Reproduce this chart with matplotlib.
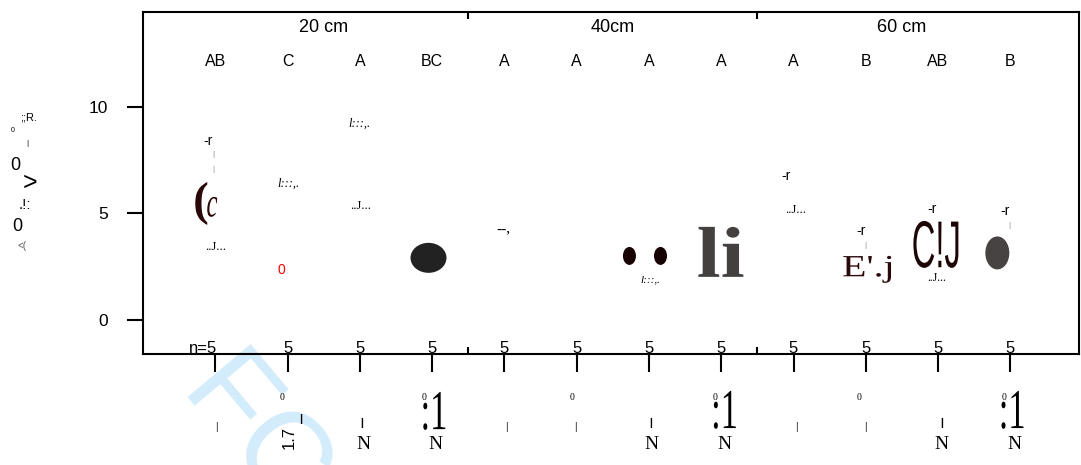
import numpy as np
import matplotlib
matplotlib.use('Agg')
import matplotlib.pyplot as plt
from matplotlib.patches import Ellipse
from matplotlib.textpath import TextPath
from matplotlib.font_manager import FontProperties
from matplotlib.patheffects import AbstractPathEffect
from matplotlib.transforms import Affine2D, IdentityTransform

plt.rcParams['font.family'] = ['Liberation Sans', 'DejaVu Sans']

DPI = 100

# --- chart data -------------------------------------------------------------
depth_groups = ['20 cm', '40cm', '60 cm']
group_centers = [2.5, 6.5, 10.5]
positions = [1, 2, 3, 4, 5, 6, 7, 8, 9, 10, 11, 12]
letters = ['AB', 'C', 'A', 'BC', 'A', 'A', 'A', 'A', 'A', 'B', 'AB', 'B']
n_obs = [5, 5, 5, 5, 5, 5, 5, 5, 5, 5, 5, 5]
y_ticks = [0, 5, 10]

# scanned (garbled) marks: centre x, centre y, width px, height px
blob_x = [3.95, 6.73, 7.16, 11.82]
blob_y = [2.91, 3.00, 3.00, 3.14]
blob_w = [36, 13, 13, 24]
blob_h = [30, 18, 18, 33]
blob_col = ['#222222', '#180000', '#180000', '#474342']

# glyphs fitted to a box: text, x, y, width px, height px, colour, font
fitted = [
    ('(', 0.806, 5.46, 12, 43, '#2a0808', dict(family='Liberation Serif', weight='bold')),
    ('c', 0.958, 5.30, 10, 20, '#2a0808', dict(family='Liberation Serif', style='italic')),
    ('li', 7.995, 3.19, 45, 50, '#454040', dict(family='Liberation Serif', weight='bold')),
    ("E'.j", 10.02, 2.37, 48, 27, '#2a0808', dict(family='Liberation Serif')),
    ('C!J', 10.97, 3.54, 45, 47, '#1e0505', dict(family='Liberation Sans')),
    (':1', 4.03, -4.27, 22, 38, 'black', dict(family='Liberation Serif')),
    (':1', 8.05, -4.22, 22, 38, 'black', dict(family='Liberation Serif')),
    (':1', 12.03, -4.22, 22, 38, 'black', dict(family='Liberation Serif')),
]

# plain scanned fragments: text, x, y, size, colour, family, style, weight
fragments = [
    ('-r', 0.90, 8.39, 10, 'black', 'Liberation Sans', 'normal', 'normal'),
    ('-r', 8.90, 6.75, 10, 'black', 'Liberation Sans', 'normal', 'normal'),
    ('-r', 9.94, 4.17, 10, 'black', 'Liberation Sans', 'normal', 'normal'),
    ('-r', 10.92, 5.20, 10, 'black', 'Liberation Sans', 'normal', 'normal'),
    ('-r', 11.93, 5.11, 10, 'black', 'Liberation Sans', 'normal', 'normal'),
    ('|', 0.97, 7.74, 6, '#888888', 'Liberation Sans', 'normal', 'normal'),
    ('|', 0.97, 7.03, 6, '#888888', 'Liberation Sans', 'normal', 'normal'),
    ('|', 9.99, 3.47, 6, '#888888', 'Liberation Sans', 'normal', 'normal'),
    ('|', 11.99, 4.41, 6, '#888888', 'Liberation Sans', 'normal', 'normal'),
    ('..J...', 1.00, 3.42, 9, 'black', 'Liberation Serif', 'normal', 'normal'),
    ('..J...', 3.01, 5.34, 9, 'black', 'Liberation Serif', 'normal', 'normal'),
    ('..J...', 9.03, 5.16, 9, 'black', 'Liberation Serif', 'normal', 'normal'),
    ('..J...', 10.98, 1.98, 8.5, 'black', 'Liberation Serif', 'normal', 'normal'),
    ('l:::,.', 2.01, 6.38, 9, 'black', 'Liberation Serif', 'italic', 'normal'),
    ('l:::,.', 2.99, 9.19, 9, 'black', 'Liberation Serif', 'italic', 'normal'),
    ('l:::,.', 7.02, 1.88, 8, 'black', 'Liberation Serif', 'italic', 'normal'),
    ('0', 1.91, 2.34, 10, 'red', 'Liberation Sans', 'normal', 'normal'),
    ('--,', 4.99, 4.22, 11, 'black', 'Liberation Serif', 'normal', 'normal'),
]
below_zero_x = [1.93, 3.89, 5.93, 7.92, 9.91, 11.92]
below_bar_x = [3.03, 7.02, 11.05]
below_thin_x = [1.01, 5.03, 5.98, 9.04, 9.99]
below_n_x = [3.05, 4.04, 7.03, 8.05, 11.05, 12.06]

# garbled y-axis title pieces (figure pixels): text, x, y, size, colour
ylabel_bits = [
    (';;R.', 29, 118, 8, 'black'),
    ('0', 13, 130, 5, 'black'),
    ('|', 27, 143, 6, 'black'),
    ('0', 15, 166, 13, 'black'),
    ('>', 30, 183, 18, 'black'),
    ('.!:', 25, 205, 11, 'black'),
    ('0', 17, 226, 13, 'black'),
    ('<(', 22, 246, 7, '#555555'),
]


class HStretch(AbstractPathEffect):
    def __init__(self, sx, cx):
        super().__init__()
        self.sx, self.cx = sx, cx

    def draw_path(self, renderer, gc, tpath, affine, rgbFace=None):
        a = affine + Affine2D().translate(-self.cx, 0).scale(self.sx, 1).translate(self.cx, 0)
        renderer.draw_path(gc, tpath, a, rgbFace)


W, H = 1081, 465
fig = plt.figure(figsize=(W / DPI, H / DPI), dpi=DPI)
ax = fig.add_axes([143 / W, (H - 354) / H, (1079 - 143) / W, (354 - 12) / H])
ax.patch.set_alpha(0)
ax.set_xlim(0, 12.95)
ax.set_ylim(-1.6, 14.44)

for s in ax.spines.values():
    s.set_linewidth(1.5)

ax.set_xticks(positions)
ax.set_xticklabels([])
ax.set_xticks([4.5, 8.5], minor=True)
ax.tick_params(axis='x', which='major', direction='out', length=13, width=1.5,
               bottom=True, top=False, labelbottom=False)
ax.tick_params(axis='x', which='minor', direction='in', length=5, width=1.5,
               bottom=True, top=True, labelbottom=False)
ax.set_yticks(y_ticks)
ax.tick_params(axis='y', direction='out', length=11.5, width=1.5, pad=13.5, labelsize=12.5)

# group headers and letters
for g, c in zip(depth_groups, group_centers):
    ax.text(c, 13.69, g, ha='center', va='center', fontsize=13)
for x, l in zip(positions, letters):
    ax.text(x, 12.14, l, ha='center', va='center', fontsize=11.5)

# sample sizes
for i, (x, n) in enumerate(zip(positions, n_obs)):
    if i == 0:
        ax.text(x + 0.03, -1.55, f'n={n}', ha='right', va='baseline', fontsize=12)
    else:
        ax.text(x, -1.55, str(n), ha='center', va='baseline', fontsize=12)

# blobs
ppx = ax.transData.transform((1, 0))[0] - ax.transData.transform((0, 0))[0]
ppy = ax.transData.transform((0, 1))[1] - ax.transData.transform((0, 0))[1]
for x, y, w, h, c in zip(blob_x, blob_y, blob_w, blob_h, blob_col):
    ax.add_patch(Ellipse((x, y), w / ppx, h / ppy, color=c, lw=0))

# fitted glyphs
for s, x, y, w, h, col, font in fitted:
    fp = FontProperties(**font)
    ext = TextPath((0, 0), s, size=1, prop=fp).get_extents()
    size_pt = h / (ext.height * DPI / 72)
    k = size_pt * DPI / 72
    sx = w / (ext.width * k)
    cx, cy = ax.transData.transform((x, y))
    x0 = cx - sx * (ext.x0 + ext.x1) / 2 * k
    y0 = cy - (ext.y0 + ext.y1) / 2 * k
    ax.text(x0, y0, s, transform=IdentityTransform(), ha='left', va='baseline',
            fontsize=size_pt, color=col, fontproperties=fp, clip_on=False,
            path_effects=[HStretch(sx, x0)])

for s, x, y, sz, col, fam, st, wt in fragments:
    ax.text(x, y, s, ha='center', va='center', fontsize=sz, color=col,
            family=fam, style=st, weight=wt, clip_on=False)

for x in below_zero_x:
    ax.text(x, -3.63, '0', ha='center', va='center', fontsize=7,
            family='Liberation Serif', clip_on=False)
for x in below_bar_x:
    ax.text(x, -4.83, '|', ha='center', va='center', fontsize=7.5,
            weight='bold', clip_on=False)
for x in below_thin_x:
    ax.text(x, -5.02, '|', ha='center', va='center', fontsize=7.5,
            color='#333333', clip_on=False)
for x in below_n_x:
    ax.text(x, -5.86, 'N', ha='center', va='center', fontsize=14,
            family='Liberation Serif', clip_on=False)
ax.text(2.03, -5.51, '1.7', ha='center', va='center', fontsize=12,
        rotation=90, clip_on=False)
ax.text(2.18, -4.64, '|', ha='center', va='center', fontsize=8,
        weight='bold', clip_on=False)

for s, px, py, sz, col in ylabel_bits:
    fig.text(px / W, 1 - py / H, s, ha='center', va='center', fontsize=sz, color=col)

# watermark
fig.text(176 / W, 1 - 396 / H, 'FC', rotation=-50, rotation_mode='anchor',
         ha='left', va='baseline', fontsize=87, color='#d3ecfb', zorder=-1)

fig.savefig('out.png', dpi=DPI)
